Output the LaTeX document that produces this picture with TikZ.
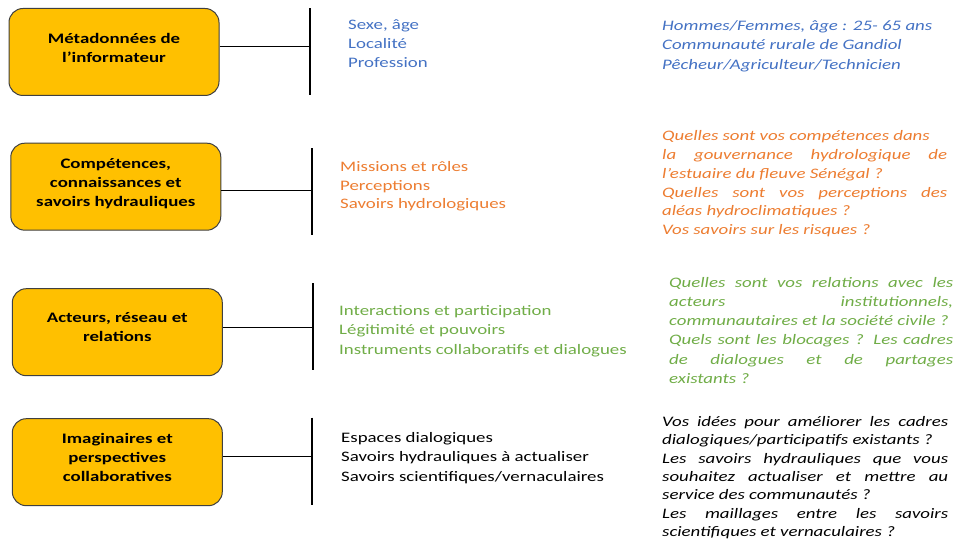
\documentclass[tikz,border=0pt]{standalone}
\usepackage{fontspec}
\setmainfont{Carlito}[FakeStretch=1.3]
\definecolor{boxfill}{HTML}{FFC000}
\definecolor{boxborder}{HTML}{404040}
\definecolor{cblue}{HTML}{4472C4}
\definecolor{corange}{HTML}{ED7D31}
\definecolor{cgreen}{HTML}{70AD47}
\begin{document}
\begin{tikzpicture}[x=1pt,y=-1pt,
  box/.style={draw=boxborder, fill=boxfill, rounded corners=14pt, line width=1pt,
    minimum width=210pt, minimum height=87pt, inner sep=0pt},
  boxtxt/.style={inner sep=0pt, align=center,
    font=\bfseries\fontsize{14.5}{19}\selectfont},
  bar/.style={line width=2pt, black},
  link/.style={line width=1.5pt, black},
  txt/.style={anchor=base west, inner sep=0pt, font=\fontsize{14.5}{19}\selectfont},
  rtxt/.style={txt, font=\itshape\fontsize{14.5}{19}\selectfont}]
\useasboundingbox (0,0) rectangle (956,540);
\fill[white] (0,0) rectangle (956,540);

% boxes
\node[box] (b1) at (114,52) {};
\node[box] (b2) at (115.8,186.7) {};
\node[box] (b3) at (117.3,332.2) {};
\node[box] (b4) at (117.3,462.2) {};
\node[boxtxt] (t1) at ([yshift=4pt]b1.center) {Métadonnées de\\l’informateur};
\node[boxtxt] (t2) at ([yshift=3pt]b2.center) {Compétences,\\connaissances et\\savoirs hydrauliques};
\node[boxtxt] (t3) at ([yshift=5pt]b3.center) {Acteurs, réseau et\\relations};
\node[boxtxt] (t4) at ([yshift=4.5pt]b4.center) {Imaginaires et\\perspectives\\collaboratives};

% bars
\coordinate (v1t) at (310.3,8.3);  \coordinate (v1b) at (310.3,95);  \coordinate (c1) at (310.3,46.7);
\coordinate (v2t) at (312.3,148.3); \coordinate (v2b) at (312.3,235); \coordinate (c2) at (312.3,190.7);
\coordinate (v3t) at (313.3,283.3); \coordinate (v3b) at (313.3,370); \coordinate (c3) at (313.3,327.3);
\coordinate (v4t) at (312.3,417.7); \coordinate (v4b) at (312.3,505); \coordinate (c4) at (312.3,456.7);
\draw[bar] (v1t) -- (v1b);
\draw[bar] (v2t) -- (v2b);
\draw[bar] (v3t) -- (v3b);
\draw[bar] (v4t) -- (v4b);
\draw[link] (b1.east |- c1) -- (c1);
\draw[link] (b2.east |- c2) -- (c2);
\draw[link] (b3.east |- c3) -- (c3);
\draw[link] (b4.east |- c4) -- (c4);

% middle lists
\node[txt, text=cblue] (m11) at (348,30) {Sexe, âge};
\node[txt, text=cblue] (m12) at (348,49) {Localité};
\node[txt, text=cblue] (m13) at (348,68) {Profession};

\node[txt, text=corange] (m21) at (340,171.5) {Missions et rôles};
\node[txt, text=corange] (m22) at (340,190.3) {Perceptions};
\node[txt, text=corange] (m23) at (340,209) {Savoirs hydrologiques};

\node[txt, text=cgreen] (m31) at (339,315) {Interactions et participation};
\node[txt, text=cgreen] (m32) at (339,334.3) {Légitimité et pouvoirs};
\node[txt, text=cgreen] (m33) at (339,354) {Instruments collaboratifs et dialogues};

\node[txt, text=black] (m41) at (341,442.7) {Espaces dialogiques};
\node[txt, text=black] (m42) at (341,461.7) {Savoirs hydrauliques à actualiser};
\node[txt, text=black] (m43) at (341,481) {Savoirs scientifiques/vernaculaires};

% right column: blue
\node[rtxt, text=cblue] (r11) at (662,30.5) {Hommes/Femmes, âge : 25- 65 ans};
\node[rtxt, text=cblue] (r12) at (662,50) {Communauté rurale de Gandiol};
\node[rtxt, text=cblue] (r13) at (662,69.5) {Pêcheur/Agriculteur/Technicien};

% right column: orange
\node[rtxt, text=corange] (r21) at (662,141) {Quelles sont vos compétences dans};
\node[rtxt, text=corange] (r22) at (662,159.7) {\makebox[285pt][s]{la gouvernance hydrologique de}};
\node[rtxt, text=corange] (r23) at (662,178.4) {l’estuaire du fleuve Sénégal ?};
\node[rtxt, text=corange] (r24) at (662,197.1) {\makebox[285pt][s]{Quelles sont vos perceptions des}};
\node[rtxt, text=corange] (r25) at (662,215.8) {aléas hydroclimatiques ?};
\node[rtxt, text=corange] (r26) at (662,234.5) {Vos savoirs sur les risques ?};

% right column: green
\node[rtxt, text=cgreen] (r31) at (669,287.3) {\makebox[284pt][s]{Quelles sont vos relations avec les}};
\node[rtxt, text=cgreen] (r32) at (669,306.5) {\makebox[284pt][s]{acteurs institutionnels,}};
\node[rtxt, text=cgreen] (r33) at (669,325.7) {communautaires et la société civile ?};
\node[rtxt, text=cgreen] (r34) at (669,344.9) {\makebox[284pt][s]{Quels sont les blocages ? Les cadres}};
\node[rtxt, text=cgreen] (r35) at (669,364.1) {\makebox[284pt][s]{de dialogues et de partages}};
\node[rtxt, text=cgreen] (r36) at (669,383.3) {existants ?};

% right column: black
\node[rtxt, text=black] (r41) at (662,426.5) {\makebox[286pt][s]{Vos idées pour améliorer les cadres}};
\node[rtxt, text=black] (r42) at (662,444.8) {dialogiques/participatifs existants ?};
\node[rtxt, text=black] (r43) at (662,463.1) {\makebox[286pt][s]{Les savoirs hydrauliques que vous}};
\node[rtxt, text=black] (r44) at (662,481.4) {\makebox[286pt][s]{souhaitez actualiser et mettre au}};
\node[rtxt, text=black] (r45) at (662,499.7) {service des communautés ?};
\node[rtxt, text=black] (r46) at (662,518) {\makebox[286pt][s]{Les maillages entre les savoirs}};
\node[rtxt, text=black] (r47) at (662,536.3) {scientifiques et vernaculaires ?};
\end{tikzpicture}
\end{document}
